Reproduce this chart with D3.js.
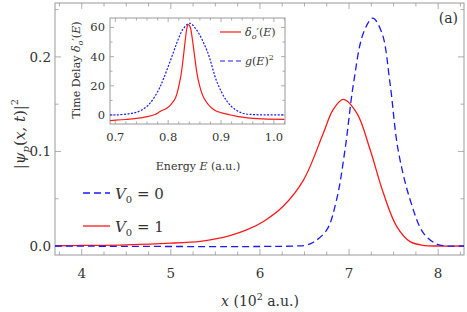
<!DOCTYPE html>
<html>
<head>
<meta charset="utf-8">
<script src="https://cdn.jsdelivr.net/npm/d3@7"></script>
<style>
  body { margin: 0; background: #fff; }
</style>
</head>
<body>
<svg id="chart" width="467" height="312"></svg>
<script>
// main panel: |psi_p(x,t)|^2 vs x (10^2 a.u.)
const freeX = [3.7, 6.4, 6.52, 6.6, 6.75, 6.86, 6.955, 7.05, 7.16, 7.266, 7.37, 7.46, 7.55, 7.685, 7.835, 7.985, 8.1, 8.29];
const freeY = [0, 0, 0.001, 0.004, 0.017, 0.049, 0.102, 0.172, 0.225, 0.241, 0.225, 0.172, 0.102, 0.049, 0.0137, 0.002, 0, 0];
const barrierX = [3.7, 4.0, 4.5, 5.0, 5.33, 5.5, 5.663, 5.85, 6.04, 6.26, 6.49, 6.71, 6.82, 6.936, 7.09, 7.236, 7.385, 7.536, 7.685, 7.85, 8.0, 8.29];
const barrierY = [0.0003, 0.0006, 0.0013, 0.003, 0.005, 0.0075, 0.011, 0.017, 0.026, 0.042, 0.07, 0.119, 0.144, 0.155, 0.140, 0.102, 0.056, 0.0205, 0.0046, 0.0005, 0, 0];
const mainXTicks = [4, 5, 6, 7, 8];
const mainYTicks = [0.0, 0.1, 0.2];

// inset: time delay vs energy
const delayE = [0.69, 0.70, 0.72, 0.74, 0.76, 0.775, 0.7854, 0.798, 0.806, 0.8138, 0.8233, 0.8285, 0.8328, 0.8365, 0.8391, 0.842, 0.8455, 0.8505, 0.8562, 0.8676, 0.8865, 0.918, 0.95, 0.98, 1.02];
const delayV = [-3.8, -3.6, -3.1, -2.4, -1.2, 0.3, 2.5, 4.8, 7.5, 11.6, 25.3, 39, 52.7, 61, 62, 60, 52.7, 39, 25.3, 11.6, 3.6, 0.0, -2.0, -2.7, -3.0];
const gE = [0.69, 0.7006, 0.7247, 0.7436, 0.7626, 0.7816, 0.7917, 0.8106, 0.8195, 0.829, 0.841, 0.8543, 0.874, 0.893, 0.912, 0.9277, 0.943, 0.9657, 1.02];
const gV = [0, 0, 0.8, 2.3, 6.8, 17, 25.3, 43.6, 52.4, 59.3, 62.9, 58, 43.6, 22, 9, 3.5, 1, 0.2, 0];
const insetXTicks = [0.7, 0.8, 0.9, 1.0];
const insetYTicks = [0, 20, 40, 60];

const svg = d3.select('#chart');
const serif = 'DejaVu Serif';
const frameColor = '#9a9a9a';
const textColor = '#333';

const x = d3.scaleLinear().domain([3.7, 8.29]).range([55, 464]);
const y = d3.scaleLinear().domain([-0.0095, 0.257]).range([255, 3]);

// draw a framed box with inward ticks on all four sides
function frame(g, xs, ys, xMajor, xMinor, yMajor, yMinor, big, small) {
  const [x0, x1] = xs.range();
  const [y0, y1] = ys.range();
  g.append('rect')
    .attr('x', x0).attr('y', y1).attr('width', x1 - x0).attr('height', y0 - y1)
    .attr('fill', '#fff').attr('stroke', frameColor).attr('stroke-width', 1);
  const tk = g.append('g').attr('stroke', frameColor).attr('stroke-width', 0.8);
  xMinor.forEach(v => {
    const L = xMajor.some(m => Math.abs(m - v) < 1e-9) ? big : small;
    tk.append('line').attr('x1', xs(v)).attr('x2', xs(v)).attr('y1', y0).attr('y2', y0 - L);
    tk.append('line').attr('x1', xs(v)).attr('x2', xs(v)).attr('y1', y1).attr('y2', y1 + L);
  });
  yMinor.forEach(v => {
    const L = yMajor.some(m => Math.abs(m - v) < 1e-9) ? big : small;
    tk.append('line').attr('y1', ys(v)).attr('y2', ys(v)).attr('x1', x0).attr('x2', x0 + L);
    tk.append('line').attr('y1', ys(v)).attr('y2', ys(v)).attr('x1', x1).attr('x2', x1 - L);
  });
}

function label(sel) {
  return sel.append('text').style('font-family', serif).attr('fill', textColor);
}

const main = svg.append('g');
frame(main, x, y, mainXTicks, d3.range(3.75, 8.3, 0.25), mainYTicks, d3.range(0, 0.26, 0.05), 6, 3.5);

mainXTicks.forEach(d => {
  label(main).attr('x', x(d)).attr('y', 278).attr('text-anchor', 'middle')
    .attr('font-size', 13.5).text(d);
});
mainYTicks.forEach(d => {
  label(main).attr('x', 51).attr('y', y(d) + 5).attr('text-anchor', 'end')
    .attr('font-size', 13.5).text(d.toFixed(1));
});

const line = d3.line().curve(d3.curveCatmullRom.alpha(0.5));
main.append('path')
  .attr('d', line(barrierX.map((v, i) => [x(v), y(barrierY[i])])))
  .attr('fill', 'none').attr('stroke', '#ff1a1a').attr('stroke-width', 1.3);
main.append('path')
  .attr('d', line(freeX.map((v, i) => [x(v), y(freeY[i])])))
  .attr('fill', 'none').attr('stroke', '#1a1aff').attr('stroke-width', 1.3)
  .attr('stroke-dasharray', '7,4');

// axis titles
const xt = label(svg).attr('x', 260).attr('y', 306).attr('text-anchor', 'middle').attr('font-size', 14);
xt.append('tspan').attr('font-style', 'italic').text('x');
xt.append('tspan').text(' (10');
xt.append('tspan').attr('font-size', 9.5).attr('dy', -6).text('2');
xt.append('tspan').attr('dy', 6).text(' a.u.)');

const yt = label(svg).attr('transform', 'translate(25,134) rotate(-90)')
  .attr('text-anchor', 'middle').attr('font-size', 15);
yt.append('tspan').text('|');
yt.append('tspan').attr('font-style', 'italic').text('ψ');
yt.append('tspan').attr('font-style', 'italic').attr('font-size', 10).attr('dy', 4).text('p');
yt.append('tspan').attr('dy', -4).text('(');
yt.append('tspan').attr('font-style', 'italic').text('x, t');
yt.append('tspan').text(')|');
yt.append('tspan').attr('font-size', 10).attr('dy', -7).text('2');

label(svg).attr('x', 458).attr('y', 23).attr('text-anchor', 'end')
  .attr('font-size', 14).text('(a)');

// main legend
const legend = [
  { label: '0', color: '#1a1aff', dash: '7,4', yy: 193 },
  { label: '1', color: '#ff1a1a', dash: null, yy: 226 }
];
legend.forEach(l => {
  svg.append('line').attr('x1', 83).attr('x2', 110).attr('y1', l.yy).attr('y2', l.yy)
    .attr('stroke', l.color).attr('stroke-width', 1.3).attr('stroke-dasharray', l.dash);
  const t = label(svg).attr('x', 115).attr('y', l.yy + 6).attr('font-size', 15);
  t.append('tspan').attr('font-style', 'italic').text('V');
  t.append('tspan').attr('font-size', 10).attr('dy', 4).text('0');
  t.append('tspan').attr('dy', -4).text(' = ' + l.label);
});

// inset
const ix = d3.scaleLinear().domain([0.69, 1.021]).range([110, 285]);
const iy = d3.scaleLinear().domain([-6.2, 66.5]).range([124, 18]);
const inset = svg.append('g');
frame(inset, ix, iy, insetXTicks, d3.range(0.7, 1.021, 0.02).map(v => +v.toFixed(2)), insetYTicks, d3.range(0, 61, 10), 4, 2.5);

insetXTicks.forEach(d => {
  label(inset).attr('x', ix(d)).attr('y', 141).attr('text-anchor', 'middle')
    .attr('font-size', 11.5).text(d.toFixed(1));
});
insetYTicks.forEach(d => {
  label(inset).attr('x', 105).attr('y', iy(d) + 4).attr('text-anchor', 'end')
    .attr('font-size', 11.5).text(d);
});

inset.append('path')
  .attr('d', line(gE.map((v, i) => [ix(v), iy(gV[i])])))
  .attr('fill', 'none').attr('stroke', '#1a1aff').attr('stroke-width', 1.2)
  .attr('stroke-dasharray', '2,1.5');
inset.append('path')
  .attr('d', line(delayE.map((v, i) => [ix(v), iy(delayV[i])])))
  .attr('fill', 'none').attr('stroke', '#ff1a1a').attr('stroke-width', 1.2);

const ixt = label(svg).attr('x', 198).attr('y', 170).attr('text-anchor', 'middle').attr('font-size', 11);
ixt.append('tspan').text('Energy ');
ixt.append('tspan').attr('font-style', 'italic').text('E');
ixt.append('tspan').text(' (a.u.)');

const iyt = label(svg).attr('transform', 'translate(80,70) rotate(-90)')
  .attr('text-anchor', 'middle').attr('font-size', 11);
iyt.append('tspan').text('Time Delay ');
iyt.append('tspan').attr('font-style', 'italic').text('δ');
iyt.append('tspan').attr('font-style', 'italic').attr('font-size', 8).attr('dy', 3).text('o');
iyt.append('tspan').attr('dy', -3).text('′(');
iyt.append('tspan').attr('font-style', 'italic').text('E');
iyt.append('tspan').text(')');

// inset legend
const ilegend = [
  { color: '#ff1a1a', dash: null, yy: 32, name: 'delay' },
  { color: '#1a1aff', dash: '5,3', yy: 61, name: 'g' }
];
ilegend.forEach(l => {
  svg.append('line').attr('x1', 220).attr('x2', 241).attr('y1', l.yy).attr('y2', l.yy)
    .attr('stroke', l.color).attr('stroke-width', 1.2).attr('stroke-dasharray', l.dash);
  const t = label(svg).attr('x', 245).attr('y', l.yy + 4).attr('font-size', 11);
  if (l.name === 'delay') {
    t.append('tspan').attr('font-style', 'italic').text('δ');
    t.append('tspan').attr('font-style', 'italic').attr('font-size', 8).attr('dy', 3).text('o');
    t.append('tspan').attr('dy', -3).text('′(');
    t.append('tspan').attr('font-style', 'italic').text('E');
    t.append('tspan').text(')');
  } else {
    t.append('tspan').attr('font-style', 'italic').text('g');
    t.append('tspan').text('(');
    t.append('tspan').attr('font-style', 'italic').text('E');
    t.append('tspan').text(')');
    t.append('tspan').attr('font-size', 8).attr('dy', -5).text('2');
  }
});
</script>
</body>
</html>
